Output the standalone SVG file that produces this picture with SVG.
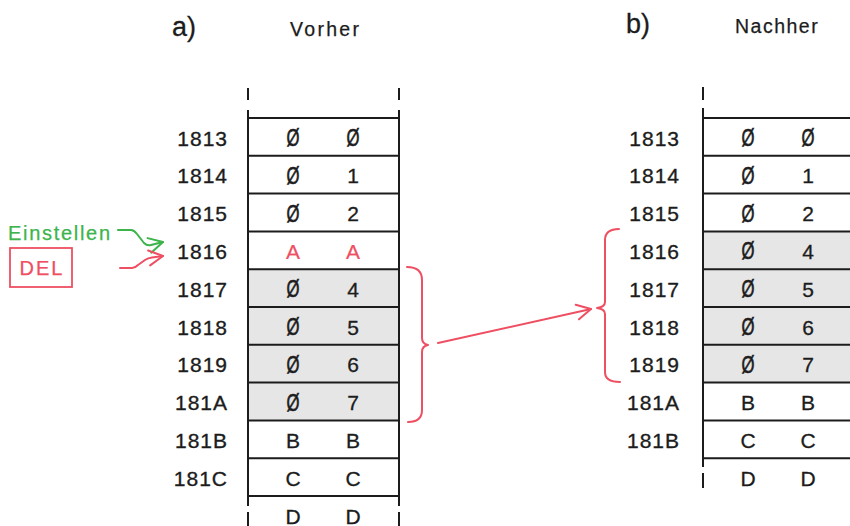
<svg xmlns="http://www.w3.org/2000/svg" width="850" height="526" viewBox="0 0 850 526">
  <style>
    text { font-family: "Liberation Sans", Arial, sans-serif; }
    .ttl { font-size: 27px; fill: #1c1c1c; stroke: #1c1c1c; stroke-width: 0.3; }
    .hdr { font-size: 19.5px; fill: #1c1c1c; stroke: #1c1c1c; stroke-width: 0.25; letter-spacing: 2.3px; }
    .adr { font-size: 21px; fill: #1c1c1c; stroke: #1c1c1c; stroke-width: 0.35; letter-spacing: 1px; text-anchor: end; }
    .cell { font-size: 21px; fill: #1c1c1c; stroke: #1c1c1c; stroke-width: 0.3; text-anchor: middle; }
    .zero { font-size: 23px; fill: #1c1c1c; stroke: #1c1c1c; stroke-width: 0.6; text-anchor: middle; }
    .red { fill: #ee4f62; stroke: #ee4f62; stroke-width: 0.2; }
    .shade { fill: #e6e6e6; }
    .rule { stroke: #1c1c1c; stroke-width: 2; fill: none; }
    .redline { stroke: #ee4f62; stroke-width: 2; fill: none; stroke-linecap: round; stroke-linejoin: round; }
    .greenline { stroke: #3cb44b; stroke-width: 2; fill: none; stroke-linecap: round; stroke-linejoin: round; }
  </style>
  <defs>
    <marker id="headRed" markerUnits="userSpaceOnUse" viewBox="-16 -10 20 20" refX="0" refY="0" markerWidth="20" markerHeight="20" orient="auto">
      <path d="M-14,-7.5 L0,0 L-14,7.5" fill="none" stroke="#ee4f62" stroke-width="2" stroke-linecap="round" stroke-linejoin="round"/>
    </marker>
    <marker id="headGreen" markerUnits="userSpaceOnUse" viewBox="-16 -10 20 20" refX="0" refY="0" markerWidth="20" markerHeight="20" orient="auto">
      <path d="M-14,-7.5 L0,0 L-14,7.5" fill="none" stroke="#3cb44b" stroke-width="2" stroke-linecap="round" stroke-linejoin="round"/>
    </marker>
  </defs>

  <rect width="850" height="526" fill="#ffffff"/>

  <!-- headings -->
  <g id="title-a">
    <text class="ttl" x="172" y="36">a)</text>
    <text class="hdr" x="290" y="36">Vorher</text>
  </g>
  <g id="title-b">
    <text class="ttl" x="626" y="33">b)</text>
    <text class="hdr" x="735" y="33" style="letter-spacing:1.5px">Nachher</text>
  </g>

  <!-- memory table before deletion -->
  <g id="table-a">
    <rect class="shade" x="248" y="269.2" width="151" height="151.2"/>
    <path class="rule" d="M248,88 V100 M399,88 V100 M248,110 V506 M399,110 V506 M248,512 V526 M399,512 V526"/>
    <path class="rule" d="M248,118 H399 M248,155.8 H399 M248,193.6 H399 M248,231.4 H399 M248,269.2 H399 M248,307 H399 M248,344.8 H399 M248,382.6 H399 M248,420.4 H399 M248,458.2 H399 M248,496 H399"/>
    <g id="addr-a">
      <text class="adr" x="228" y="145.5">1813</text>
      <text class="adr" x="228" y="183.3">1814</text>
      <text class="adr" x="228" y="221.1">1815</text>
      <text class="adr" x="228" y="258.9">1816</text>
      <text class="adr" x="228" y="296.7">1817</text>
      <text class="adr" x="228" y="334.5">1818</text>
      <text class="adr" x="228" y="372.3">1819</text>
      <text class="adr" x="228" y="410.1">181A</text>
      <text class="adr" x="228" y="447.9">181B</text>
      <text class="adr" x="228" y="485.7">181C</text>
    </g>
    <g id="cells-a">
      <text class="zero" x="293" y="146" textLength="13" lengthAdjust="spacingAndGlyphs">Ø</text><text class="zero" x="353" y="146" textLength="13" lengthAdjust="spacingAndGlyphs">Ø</text>
      <text class="zero" x="293" y="183.8" textLength="13" lengthAdjust="spacingAndGlyphs">Ø</text><text class="cell" x="353" y="183.3">1</text>
      <text class="zero" x="293" y="221.6" textLength="13" lengthAdjust="spacingAndGlyphs">Ø</text><text class="cell" x="353" y="221.1">2</text>
      <text class="cell red" x="293" y="258.9">A</text><text class="cell red" x="353" y="258.9">A</text>
      <text class="zero" x="293" y="297.2" textLength="13" lengthAdjust="spacingAndGlyphs">Ø</text><text class="cell" x="353" y="296.7">4</text>
      <text class="zero" x="293" y="335" textLength="13" lengthAdjust="spacingAndGlyphs">Ø</text><text class="cell" x="353" y="334.5">5</text>
      <text class="zero" x="293" y="372.8" textLength="13" lengthAdjust="spacingAndGlyphs">Ø</text><text class="cell" x="353" y="372.3">6</text>
      <text class="zero" x="293" y="410.6" textLength="13" lengthAdjust="spacingAndGlyphs">Ø</text><text class="cell" x="353" y="410.1">7</text>
      <text class="cell" x="293" y="447.9">B</text><text class="cell" x="353" y="447.9">B</text>
      <text class="cell" x="293" y="485.7">C</text><text class="cell" x="353" y="485.7">C</text>
      <text class="cell" x="293" y="523.5">D</text><text class="cell" x="353" y="523.5">D</text>
    </g>
  </g>

  <!-- memory table after deletion -->
  <g id="table-b">
    <rect class="shade" x="703" y="231.4" width="150" height="151.2"/>
    <path class="rule" d="M703,87 V100 M703,108 V467 M703,473 V488"/>
    <path class="rule" d="M703,118 H853 M703,155.8 H853 M703,193.6 H853 M703,231.4 H853 M703,269.2 H853 M703,307 H853 M703,344.8 H853 M703,382.6 H853 M703,420.4 H853 M703,458.2 H853"/>
    <g id="addr-b">
      <text class="adr" x="680" y="145.5">1813</text>
      <text class="adr" x="680" y="183.3">1814</text>
      <text class="adr" x="680" y="221.1">1815</text>
      <text class="adr" x="680" y="258.9">1816</text>
      <text class="adr" x="680" y="296.7">1817</text>
      <text class="adr" x="680" y="334.5">1818</text>
      <text class="adr" x="680" y="372.3">1819</text>
      <text class="adr" x="680" y="410.1">181A</text>
      <text class="adr" x="680" y="447.9">181B</text>
    </g>
    <g id="cells-b">
      <text class="zero" x="748" y="146" textLength="13" lengthAdjust="spacingAndGlyphs">Ø</text><text class="zero" x="808" y="146" textLength="13" lengthAdjust="spacingAndGlyphs">Ø</text>
      <text class="zero" x="748" y="183.8" textLength="13" lengthAdjust="spacingAndGlyphs">Ø</text><text class="cell" x="808" y="183.3">1</text>
      <text class="zero" x="748" y="221.6" textLength="13" lengthAdjust="spacingAndGlyphs">Ø</text><text class="cell" x="808" y="221.1">2</text>
      <text class="zero" x="748" y="259.4" textLength="13" lengthAdjust="spacingAndGlyphs">Ø</text><text class="cell" x="808" y="258.9">4</text>
      <text class="zero" x="748" y="297.2" textLength="13" lengthAdjust="spacingAndGlyphs">Ø</text><text class="cell" x="808" y="296.7">5</text>
      <text class="zero" x="748" y="335" textLength="13" lengthAdjust="spacingAndGlyphs">Ø</text><text class="cell" x="808" y="334.5">6</text>
      <text class="zero" x="748" y="372.8" textLength="13" lengthAdjust="spacingAndGlyphs">Ø</text><text class="cell" x="808" y="372.3">7</text>
      <text class="cell" x="748" y="410.1">B</text><text class="cell" x="808" y="410.1">B</text>
      <text class="cell" x="748" y="447.9">C</text><text class="cell" x="808" y="447.9">C</text>
      <text class="cell" x="748" y="486">D</text><text class="cell" x="808" y="486">D</text>
    </g>
  </g>

  <!-- commands -->
  <g id="einstellen">
    <text x="8" y="240" style="font-size:20px; fill:#3cb44b; stroke:#3cb44b; stroke-width:0.25; letter-spacing:1.7px">Einstellen</text>
  </g>
  <g id="del">
    <rect x="10" y="248" width="62" height="39" fill="none" stroke="#ee4f62" stroke-width="1.8"/>
    <text x="42" y="275" style="font-size:20px; fill:#ee4f62; stroke:#ee4f62; stroke-width:0.25; letter-spacing:2px; text-anchor:middle">DEL</text>
  </g>

  <!-- connectors -->
  <g id="connectors">
    <path class="greenline" d="M118,230 L131,230 Q134,230 137,234 L144,243 Q147,246 151,245 L163,242" marker-end="url(#headGreen)"/>
    <path class="redline" d="M120,268 L132,268 Q135,268 138,265 L145,260 Q148,258 152,257.5 L163,256" marker-end="url(#headRed)"/>
    <path class="redline" d="M407,267 Q422,267 422,280 L422,338 Q422,344 428,345 Q422,346 422,352 L422,410 Q422,422 408,422"/>
    <path class="redline" d="M619,229 Q605,229 605,240 L605,302 Q605,307 597,308 Q605,309 605,314 L605,372 Q605,382 620,382"/>
    <path class="redline" d="M438,343 L591,309" marker-end="url(#headRed)"/>
  </g>
</svg>
